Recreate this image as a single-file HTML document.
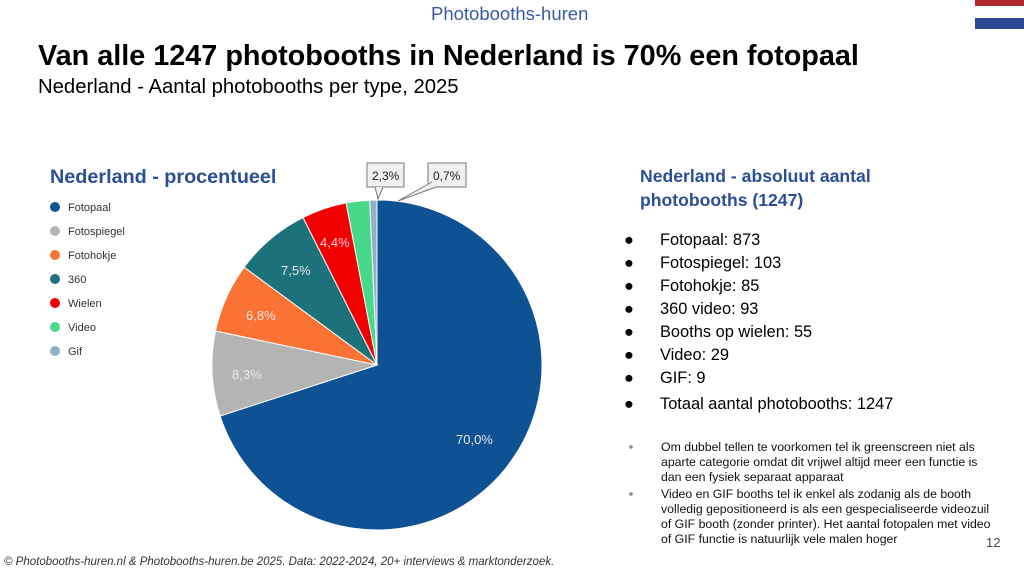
<!DOCTYPE html>
<html><head><meta charset="utf-8"><style>
html,body{margin:0;padding:0;width:1024px;height:572px;overflow:hidden;background:#fff}
svg{display:block;font-family:"Liberation Sans",Arial,sans-serif}
</style></head><body>
<svg width="1024" height="572" viewBox="0 0 1024 572">
<text x="431" y="20" font-size="18.5" fill="#3a5aa8">Photobooths-huren</text>
<rect x="975" y="0" width="49" height="6" fill="#b0282e"/>
<rect x="975" y="18" width="49" height="11" fill="#2a4a92"/>
<text x="38" y="65" font-size="28.8" font-weight="bold" fill="#000">Van alle 1247 photobooths in Nederland is 70% een fotopaal</text>
<text x="38" y="93" font-size="20.3" fill="#000">Nederland - Aantal photobooths per type, 2025</text>

<text x="50" y="183" font-size="19.8" font-weight="bold" fill="#2b4f95">Nederland - procentueel</text>
<g font-size="11" fill="#333">
<circle cx="55" cy="207" r="5" fill="#0f5294"/><text x="68" y="211">Fotopaal</text>
<circle cx="55" cy="231" r="5" fill="#b4b4b4"/><text x="68" y="235">Fotospiegel</text>
<circle cx="55" cy="255" r="5" fill="#fb7235"/><text x="68" y="259">Fotohokje</text>
<circle cx="55" cy="279" r="5" fill="#1d717a"/><text x="68" y="283">360</text>
<circle cx="55" cy="303" r="5" fill="#f20000"/><text x="68" y="307">Wielen</text>
<circle cx="55" cy="327" r="5" fill="#47d88a"/><text x="68" y="331">Video</text>
<circle cx="55" cy="351" r="5" fill="#8fb0c6"/><text x="68" y="355">Gif</text>
</g>

<g stroke="#fff" stroke-width="1">
<path d="M377,365 L377,200 A165,165 0 1,1 220.1,416 Z" fill="#0f5294"/>
<path d="M377,365 L220.1,416 A165,165 0 0,1 215.5,331 Z" fill="#b4b4b4"/>
<path d="M377,365 L215.5,331 A165,165 0 0,1 244.1,267.2 Z" fill="#fb7235"/>
<path d="M377,365 L244.1,267.2 A165,165 0 0,1 303,217.5 Z" fill="#1d717a"/>
<path d="M377,365 L303,217.5 A165,165 0 0,1 346.1,202.9 Z" fill="#f20000"/>
<path d="M377,365 L346.1,202.9 A165,165 0 0,1 369.7,200.2 Z" fill="#47d88a"/>
<path d="M377,365 L369.7,200.2 A165,165 0 0,1 377,200 Z" fill="#8fb0c6"/>
</g>
<g font-size="13" fill="#e8e8e8">
<text x="456" y="444">70,0%</text>
<text x="232" y="379">8,3%</text>
<text x="246" y="320">6,8%</text>
<text x="281" y="275">7,5%</text>
<text x="320" y="247" fill="#f4d0d0">4,4%</text>
</g>
<rect x="367" y="163" width="37" height="24" fill="#f0f0f0" stroke="#777"/>
<path d="M375,187 L378,199 L383,187" fill="#f0f0f0" stroke="#777"/>
<text x="372" y="180" font-size="12" fill="#222">2,3%</text>
<rect x="428" y="163" width="38" height="24" fill="#f0f0f0" stroke="#777"/>
<path d="M432,182 L398,201 L436,187" fill="#f0f0f0" stroke="#777"/>
<text x="433" y="180" font-size="12" fill="#222">0,7%</text>

<text x="640" y="182" font-size="17.6" font-weight="bold" fill="#2b4f95">Nederland - absoluut aantal</text>
<text x="640" y="206" font-size="17.6" font-weight="bold" fill="#2b4f95">photobooths (1247)</text>
<g font-size="16.4" fill="#000">
<text x="624" y="245">●</text><text x="660" y="245">Fotopaal: 873</text>
<text x="624" y="268">●</text><text x="660" y="268">Fotospiegel: 103</text>
<text x="624" y="291">●</text><text x="660" y="291">Fotohokje: 85</text>
<text x="624" y="314">●</text><text x="660" y="314">360 video: 93</text>
<text x="624" y="337">●</text><text x="660" y="337">Booths op wielen: 55</text>
<text x="624" y="360">●</text><text x="660" y="360">Video: 29</text>
<text x="624" y="383">●</text><text x="660" y="383">GIF: 9</text>
<text x="624" y="409">●</text><text x="660" y="409">Totaal aantal photobooths: 1247</text>
</g>
<g font-size="12.3" fill="#111">
<circle cx="631" cy="447" r="1.8" fill="#888"/>
<text x="661" y="451">Om dubbel tellen te voorkomen tel ik greenscreen niet als</text>
<text x="661" y="466">aparte categorie omdat dit vrijwel altijd meer een functie is</text>
<text x="661" y="481">dan een fysiek separaat apparaat</text>
<circle cx="631" cy="494" r="1.8" fill="#888"/>
<text x="661" y="498">Video en GIF booths tel ik enkel als zodanig als de booth</text>
<text x="661" y="513">volledig gepositioneerd is als een gespecialiseerde videozuil</text>
<text x="661" y="528">of GIF booth (zonder printer). Het aantal fotopalen met video</text>
<text x="661" y="543">of GIF functie is natuurlijk vele malen hoger</text>
<text x="986" y="547" font-size="13" fill="#444">12</text>
</g>
<text x="4" y="565" font-size="11.5" font-style="italic" fill="#333">© Photobooths-huren.nl &amp; Photobooths-huren.be 2025. Data: 2022-2024, 20+ interviews &amp; marktonderzoek.</text>
</svg>
</body></html>
